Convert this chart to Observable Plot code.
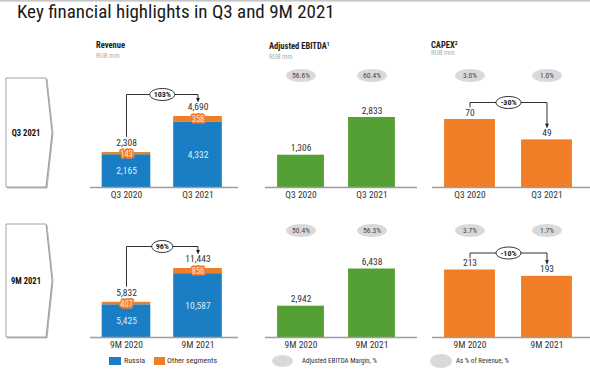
<!DOCTYPE html>
<html>
<head>
<meta charset="utf-8">
<script src="https://cdn.jsdelivr.net/npm/d3@7"></script>
<script src="https://cdn.jsdelivr.net/npm/@observablehq/plot@0.6"></script>
<style>
  html, body { margin: 0; padding: 0; background: #fff; }
  #page { position: relative; width: 590px; height: 369px; overflow: hidden; background: #fff;
          font-family: 'Liberation Sans Narrow', 'Arial Narrow', 'Roboto Condensed', Roboto, sans-serif; color: #222; }
  .abs { position: absolute; white-space: nowrap; line-height: 10px; }
  .hdr { font-weight: bold; font-size: 8.5px; color: #1a1a1a; }
  .unit { font-size: 7px; color: #b0b0b0; }
  .leg { font-size: 8px; color: #333; }
  .leg2 { font-size: 7px; color: #333; }
</style>
</head>
<body>
<div id="page"></div>
<script>
// ---------------- DATA ----------------
const titleText = "Key financial highlights in Q3 and 9M 2021";
const rowLabels = ["Q3 2021", "9M 2021"];
const periodsQ3 = ["Q3 2020", "Q3 2021"];
const periods9M = ["9M 2020", "9M 2021"];
const segments = ["Russia", "Other segments"];

const revenueRussiaQ3 = [2165, 4332];
const revenueOtherQ3 = [143, 358];
const revenueTotalQ3 = [2308, 4690];
const revenueRussia9M = [5425, 10587];
const revenueOther9M = [407, 856];
const revenueTotal9M = [5832, 11443];
const revenueGrowth = [103, 96];          // Q3, 9M (%)

const ebitdaQ3 = [1306, 2833];
const ebitda9M = [2942, 6438];
const ebitdaMarginQ3 = [56.6, 60.4];
const ebitdaMargin9M = [50.4, 56.3];

const capexQ3 = [70, 49];
const capex9M = [213, 193];
const capexShareQ3 = [3.0, 1.0];
const capexShare9M = [3.7, 1.7];
const capexGrowth = [-30, -10];           // Q3, 9M (%)

const panelTitles = ["Revenue", "Adjusted EBITDA", "CAPEX"];
const panelTitleNotes = ["", "1", "2"];
const unitLabel = "RUB mm";
const legendEbitda = "Adjusted EBITDA Margin, %";
const legendCapex = "As % of Revenue, %";

// ---------------- STYLE ----------------
const FONT = "'Liberation Sans Narrow','Arial Narrow','Roboto Condensed',Roboto,sans-serif";
const BLUE = "#1a7ec4", ORANGE = "#f07e26", GREEN = "#54a034", GREY = "#d9d9d9", INK = "#1a1a1a";
const W = 590, H = 369;
const fmt = d3.format(",");
const page = document.getElementById("page");

function ellipse(aspect) {
  return {
    draw(ctx, size) {
      const ry = Math.sqrt(size / Math.PI), rx = ry * aspect, k = 0.5523;
      ctx.moveTo(rx, 0);
      ctx.bezierCurveTo(rx, k * ry, k * rx, ry, 0, ry);
      ctx.bezierCurveTo(-k * rx, ry, -rx, k * ry, -rx, 0);
      ctx.bezierCurveTo(-rx, -k * ry, -k * rx, -ry, 0, -ry);
      ctx.bezierCurveTo(k * rx, -ry, rx, -k * ry, rx, 0);
      ctx.closePath();
    }
  };
}
const arrowDown = {
  draw(ctx, size) {
    const r = Math.sqrt(size / Math.PI);
    ctx.moveTo(0, 0); ctx.lineTo(-r, -1.8 * r); ctx.lineTo(r, -1.8 * r); ctx.closePath();
  }
};

// layout
const rows = [
  {periods: periodsQ3, baseline: 187, top: 75, pxMax: [71, 70, 68]},
  {periods: periods9M, baseline: 337, top: 230, pxMax: [69, 68.5, 67.5]}
];
const cols = [
  {axis: [90, 238], range: [90.25, 233.25], pad: 0.32},
  {axis: [265, 417], range: [265, 407], pad: 0.34},
  {axis: [432, 590], range: [431, 585], pad: 0.34}
];

function makePlot(row, col, vmax, pxMax, marks, extra = {}) {
  const el = Plot.plot({
    width: W, height: H,
    marginLeft: col.axis[0], marginRight: W - col.axis[1],
    marginTop: row.top, marginBottom: H - row.baseline,
    style: {background: "transparent", overflow: "visible", fontFamily: FONT, fontSize: "9.5px",
            color: "#333", position: "absolute", left: "0px", top: "0px"},
    x: {domain: row.periods, range: col.range, paddingInner: col.pad, paddingOuter: col.pad / 2,
        round: false, tickSize: 0, tickPadding: 4, label: null},
    y: {domain: [0, vmax], range: [row.baseline, row.baseline - pxMax], axis: null},
    ...extra,
    marks
  });
  page.appendChild(el);
}

function bracket(periods, values, vmax, pxMax, offs, growth, step) {
  const k = vmax / pxMax;
  const level = Math.max(values[0], values[1]) + offs[1] * k;
  const pts = [
    {x: periods[0], y: values[0] + offs[0] * k},
    {x: periods[0], y: level},
    {x: periods[1], y: level},
    {x: periods[1], y: values[1] + offs[2] * k}
  ];
  const label = growth + "%";
  const rx = label.length > 3 ? 12.5 : 10.5;
  return [
    Plot.line(pts, {x: "x", y: "y", stroke: INK, strokeWidth: 0.9}),
    Plot.dot([pts[3]], {x: "x", y: "y", symbol: arrowDown, r: 2, fill: INK}),
    Plot.dot([pts[1]], {x: "x", y: "y", dx: step / 2, symbol: ellipse(rx / 6), r: 6,
                        fill: "white", stroke: INK, strokeWidth: 0.9}),
    Plot.text([pts[1]], {x: "x", y: "y", dx: step / 2, text: () => label, fontWeight: "bold",
                         fontSize: 8, fill: INK})
  ];
}

// ---------------- PANELS ----------------
const revRows = [
  {russia: revenueRussiaQ3, other: revenueOtherQ3, total: revenueTotalQ3},
  {russia: revenueRussia9M, other: revenueOther9M, total: revenueTotal9M}
];
const ebitdaRows = [{v: ebitdaQ3, m: ebitdaMarginQ3}, {v: ebitda9M, m: ebitdaMargin9M}];
const capexRows = [{v: capexQ3, m: capexShareQ3}, {v: capex9M, m: capexShare9M}];

rows.forEach((row, r) => {
  // Revenue
  {
    const col = cols[0];
    const rv = revRows[r];
    const data = row.periods.map((p, i) => ({period: p, russia: rv.russia[i], other: rv.other[i], total: rv.total[i]}));
    const stack = data.flatMap(d => [
      {period: d.period, segment: segments[0], value: d.russia},
      {period: d.period, segment: segments[1], value: d.other}
    ]);
    const vmax = d3.max(rv.total), pxMax = row.pxMax[0];
    const step = (col.range[1] - col.range[0]) / 2;
    makePlot(row, col, vmax, pxMax, [
      Plot.barY(stack, {x: "period", y: "value", fill: "segment"}),
      Plot.ruleY([0], {stroke: "#9d9d9d", strokeWidth: 1.5}),
      Plot.text(data, {x: "period", y: d => d.russia / 2, text: d => fmt(d.russia), fill: "#dcebf7"}),
      Plot.text(data, {x: "period", y: d => d.russia + d.other / 2, text: d => fmt(d.other), fill: "#fde6d3",
                       fontSize: 8.5, stroke: ORANGE, strokeWidth: 3.5, dy: 0.5}),
      Plot.text(data, {x: "period", y: "total", text: d => fmt(d.total), dy: -9.5, fill: "#333"}),
      ...bracket(row.periods, rv.total, vmax, pxMax, [16, 22, 15], revenueGrowth[r], step)
    ], {color: {domain: segments, range: [BLUE, ORANGE]}});
  }
  // EBITDA
  {
    const col = cols[1];
    const e = ebitdaRows[r];
    const data = row.periods.map((p, i) => ({period: p, value: e.v[i], margin: e.m[i]}));
    makePlot(row, col, d3.max(e.v), row.pxMax[1], [
      Plot.barY(data, {x: "period", y: "value", fill: GREEN}),
      Plot.ruleY([0], {stroke: "#9d9d9d", strokeWidth: 1.5}),
      Plot.text(data, {x: "period", y: "value", text: d => fmt(d.value), dy: -7, fill: "#333"}),
      Plot.dot(data, {x: "period", frameAnchor: "top", symbol: ellipse(2.3), r: 6.5, fill: GREY}),
      Plot.text(data, {x: "period", frameAnchor: "top", lineAnchor: "middle", text: d => d.margin.toFixed(1) + "%",
                       fontSize: 7.5, fill: "#444"})
    ]);
  }
  // CAPEX
  {
    const col = cols[2];
    const c = capexRows[r];
    const data = row.periods.map((p, i) => ({period: p, value: c.v[i], share: c.m[i]}));
    const vmax = d3.max(c.v), pxMax = row.pxMax[2];
    const step = (col.range[1] - col.range[0]) / 2;
    makePlot(row, col, vmax, pxMax, [
      Plot.barY(data, {x: "period", y: "value", fill: ORANGE}),
      Plot.ruleY([0], {stroke: "#9d9d9d", strokeWidth: 1.5}),
      Plot.text(data, {x: "period", y: "value", text: d => fmt(d.value), dy: -7, fill: "#333"}),
      Plot.dot(data, {x: "period", frameAnchor: "top", symbol: ellipse(2.3), r: 6.5, fill: GREY}),
      Plot.text(data, {x: "period", frameAnchor: "top", lineAnchor: "middle", text: d => d.share.toFixed(1) + "%",
                       fontSize: 7.5, fill: "#444"}),
      ...bracket(row.periods, c.v, vmax, pxMax, [12.5, 17, 12.5], capexGrowth[r], step)
    ]);
  }
});

// ---------------- DECORATION (HTML / SVG) ----------------
function addDiv(cls, text, left, cy, extraStyle = "") {
  const d = document.createElement("div");
  d.className = "abs " + cls;
  d.style.cssText += `left:${left}px;top:${cy - 5}px;` + extraStyle;
  d.innerHTML = text;
  page.appendChild(d);
  return d;
}
// top rule + title
const bar = document.createElement("div");
bar.style.cssText = "position:absolute;left:0;top:0;width:590px;height:2px;background:linear-gradient(#bdbdbd,#e6e6e6);";
page.appendChild(bar);
const title = document.createElement("div");
title.className = "abs";
title.style.cssText = "left:17px;top:1px;font-size:19px;line-height:22px;color:#1a1a1a;";
title.textContent = titleText;
page.appendChild(title);

// panel headers
const hdrPos = [[96, 45, 56], [269, 44, 57], [431, 43, 53]];
panelTitles.forEach((t, i) => {
  const note = panelTitleNotes[i] ? `<sup style="font-size:5.5px;vertical-align:3px">${panelTitleNotes[i]}</sup>` : "";
  addDiv("hdr", t + note, hdrPos[i][0], hdrPos[i][1]);
  addDiv("unit", unitLabel, hdrPos[i][0], hdrPos[i][2]);
});

// row chevrons
const NS = "http://www.w3.org/2000/svg";
const chev = document.createElementNS(NS, "svg");
chev.setAttribute("width", 70); chev.setAttribute("height", H);
chev.style.cssText = "position:absolute;left:0;top:0;overflow:visible";
chev.innerHTML = `<defs><filter id="sh" x="-20%" y="-20%" width="140%" height="140%">
  <feDropShadow dx="1" dy="1" stdDeviation="0.6" flood-color="#000" flood-opacity="0.35"/></filter></defs>`;
const chevBoxes = [[78, 187], [224, 337]];
rowLabels.forEach((lab, i) => {
  const [t, b] = chevBoxes[i], m = (t + b) / 2;
  const poly = document.createElementNS(NS, "polygon");
  poly.setAttribute("points", `6,${t} 46,${t} 52,${m} 46,${b} 6,${b}`);
  poly.setAttribute("fill", "#fff"); poly.setAttribute("stroke", "#8a8a8a");
  poly.setAttribute("stroke-width", "0.8"); poly.setAttribute("filter", "url(#sh)");
  chev.appendChild(poly);
  const tx = document.createElementNS(NS, "text");
  tx.setAttribute("x", 26); tx.setAttribute("y", m + 1);
  tx.setAttribute("text-anchor", "middle"); tx.setAttribute("dominant-baseline", "middle");
  tx.setAttribute("font-family", FONT); tx.setAttribute("font-size", "8.5");
  tx.setAttribute("font-weight", "bold"); tx.setAttribute("fill", "#111");
  tx.textContent = lab;
  chev.appendChild(tx);
});
page.appendChild(chev);

// legends
function swatch(left, top, w, h, color, radius = "0") {
  const s = document.createElement("div");
  s.style.cssText = `position:absolute;left:${left}px;top:${top}px;width:${w}px;height:${h}px;background:${color};border-radius:${radius};`;
  page.appendChild(s);
}
swatch(109, 357, 12, 8, BLUE);
addDiv("leg", segments[0], 124, 361);
swatch(154, 357, 11, 8, ORANGE);
addDiv("leg", segments[1], 167, 361);
swatch(272, 355, 21, 12, GREY, "50%");
addDiv("leg2", legendEbitda, 302, 361);
swatch(430, 354, 22, 14, GREY, "50%");
addDiv("leg2", legendCapex, 456, 361);
</script>
</body>
</html>
